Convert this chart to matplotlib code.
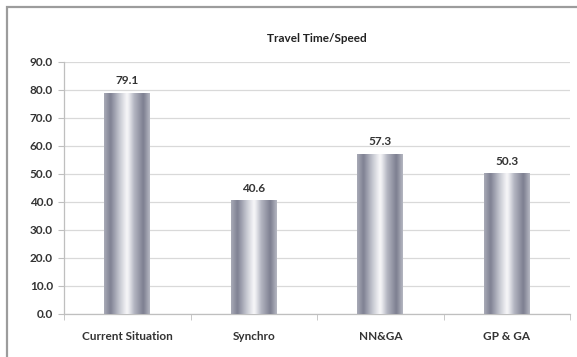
import matplotlib.pyplot as plt
import numpy as np
from matplotlib.colors import LinearSegmentedColormap
from matplotlib.patches import Rectangle

categories = ['Current Situation', 'Synchro', 'NN&GA', 'GP & GA']
values = [79.1, 40.6, 57.3, 50.3]
title = 'Travel Time/Speed'
y_ticks = [0, 10, 20, 30, 40, 50, 60, 70, 80, 90]

plt.rcParams['font.family'] = ['Lato', 'DejaVu Sans']

# metallic "chrome" fill for the columns
chrome = LinearSegmentedColormap.from_list('chrome', [
    (0.00, '#a9abb7'), (0.14, '#7f8193'), (0.34, '#c6c8d1'),
    (0.46, '#ececf0'), (0.50, '#f7f7f9'), (0.54, '#ececf0'),
    (0.66, '#b3b5c1'), (0.86, '#7d7f90'), (1.00, '#b6b8c3')])
grad = np.linspace(0, 1, 256).reshape(1, -1)

fig = plt.figure(figsize=(5.77, 3.57), dpi=100)
ax = fig.add_axes([64 / 577, 1 - 314 / 357, 506 / 577, 252 / 357])

# chart-area border (top/left edges visible)
fig.add_artist(Rectangle((6.5 / 577, -0.1), 1.2, 1 - 6.5 / 357 + 0.1,
                         transform=fig.transFigure, fill=False,
                         edgecolor='#9c9c9c', linewidth=1.6, zorder=0))

x = np.arange(len(categories))
width = 0.36
bars = ax.bar(x, values, width, color='none', edgecolor='none', zorder=3)
for b, v in zip(bars, values):
    x0 = b.get_x()
    im = ax.imshow(grad, cmap=chrome, aspect='auto', interpolation='bicubic',
                   extent=[x0, x0 + b.get_width(), 0, v], zorder=3)
    im.set_clip_path(b)
    ax.text(b.get_x() + b.get_width() / 2, v + 2.2, f'{v:.1f}',
            ha='center', va='bottom', fontsize=8.5, fontweight='bold',
            color='#333333')

ax.set_xlim(-0.5, len(categories) - 0.5)
ax.set_ylim(0, 90)
ax.set_yticks(y_ticks)
ax.set_yticklabels([f'{t:.1f}' for t in y_ticks], fontsize=8.5,
                   fontweight='bold', color='#333333')
ax.set_xticks(x)
ax.set_xticklabels(categories, fontsize=8.5, fontweight='bold',
                   color='#333333')
ax.set_xticks(np.arange(-0.5, len(categories)), minor=True)
ax.tick_params(axis='x', which='major', length=0, pad=12)
ax.tick_params(axis='x', which='minor', length=4, color='#bfbfbf')
ax.tick_params(axis='y', length=4, color='#bfbfbf', pad=4)

ax.grid(axis='y', color='#d9d9d9', linewidth=0.9, zorder=0)
ax.set_axisbelow(True)
for side in ['top', 'right']:
    ax.spines[side].set_visible(False)
for side in ['left', 'bottom']:
    ax.spines[side].set_color('#bfbfbf')
    ax.spines[side].set_linewidth(0.9)

fig.text(317 / 577, 1 - 38 / 357, title, ha='center', va='center',
         fontsize=8.5, fontweight='bold', color='#222222')

fig.savefig('out.png', dpi=100)
